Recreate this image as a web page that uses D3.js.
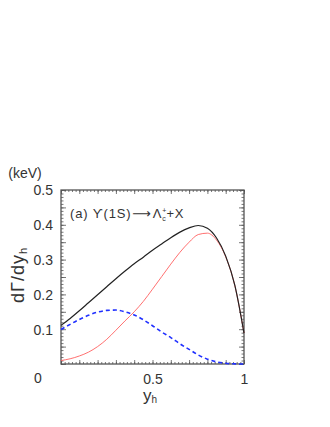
<!DOCTYPE html>
<html>
<head>
<meta charset="utf-8" />
<script src="https://d3js.org/d3.v7.min.js"></script>
<style>
  body { margin: 0; background: white; }
  text { font-family: "Liberation Sans", Arial, sans-serif; fill: #333; }
</style>
</head>
<body>
<svg id="chart"></svg>
<script>
// y_h sample points
var yh = [0, 0.05, 0.1, 0.15, 0.2, 0.25, 0.3, 0.35, 0.4, 0.45, 0.5,
          0.55, 0.6, 0.65, 0.7, 0.75, 0.8, 0.85, 0.9, 0.95, 1.0];
// total (black)
var total = [0.111, 0.131, 0.153, 0.176, 0.199, 0.222, 0.245, 0.267, 0.288, 0.307, 0.327,
             0.345, 0.363, 0.379, 0.391, 0.398, 0.390, 0.362, 0.310, 0.226, 0.089];
// red component
var red = [0.010, 0.015, 0.023, 0.034, 0.050, 0.071, 0.097, 0.124, 0.150, 0.180, 0.215,
           0.251, 0.287, 0.321, 0.350, 0.372, 0.376, 0.356, 0.308, 0.225, 0.089];
// blue dashed component
var blue = [0.099, 0.114, 0.128, 0.140, 0.149, 0.154, 0.155, 0.150, 0.141, 0.127, 0.110,
            0.092, 0.076, 0.058, 0.042, 0.026, 0.014, 0.006, 0.002, 0.0005, 0];
var yTicks = [0.1, 0.2, 0.3, 0.4, 0.5];
var xTicks = [0.5, 1];

var width = 330, height = 427;
var margin = {top: 190, right: 86, bottom: 63, left: 61};

var svg = d3.select("#chart").attr("width", width).attr("height", height);

var x = d3.scaleLinear().domain([0, 1]).range([margin.left, width - margin.right]);
var y = d3.scaleLinear().domain([0, 0.5]).range([height - margin.bottom, margin.top]);

var axisColor = "#555";

var xMinor = d3.range(0, 1.0001, 0.02);
var xMajor = d3.range(0, 1.0001, 0.1);
var yMinor = d3.range(0, 0.5001, 0.01);
var yMajor = d3.range(0, 0.5001, 0.05);

// ticks, all pointing inward (PAW style)
function drawTicks(axisFn, scale, vals, len, tr) {
  var g = svg.append("g").attr("transform", tr)
    .call(axisFn(scale).tickValues(vals).tickSize(len).tickFormat(""));
  g.select("path").remove();
  g.selectAll("line").attr("stroke", axisColor).attr("stroke-width", 0.8);
}

var bottomY = y(0), topY = y(0.5), leftX = x(0), rightX = x(1);

drawTicks(d3.axisTop, x, xMinor, 2, "translate(0," + bottomY + ")");
drawTicks(d3.axisTop, x, xMajor, 4, "translate(0," + bottomY + ")");
drawTicks(d3.axisBottom, x, xMinor, 2, "translate(0," + topY + ")");
drawTicks(d3.axisBottom, x, xMajor, 4, "translate(0," + topY + ")");
drawTicks(d3.axisRight, y, yMinor, 2.5, "translate(" + leftX + ",0)");
drawTicks(d3.axisRight, y, yMajor, 5, "translate(" + leftX + ",0)");
drawTicks(d3.axisLeft, y, yMinor, 2.5, "translate(" + rightX + ",0)");
drawTicks(d3.axisLeft, y, yMajor, 5, "translate(" + rightX + ",0)");

// frame
svg.append("rect")
  .attr("x", leftX).attr("y", topY)
  .attr("width", rightX - leftX).attr("height", bottomY - topY)
  .attr("fill", "none").attr("stroke", axisColor).attr("stroke-width", 1.3);

// tick labels
var yl = svg.append("g").attr("transform", "translate(" + (leftX - 5) + ",0)")
  .call(d3.axisLeft(y).tickValues(yTicks).tickSize(0).tickFormat(d3.format(".1f")));
yl.select("path").remove();
yl.selectAll("text").style("font-size", "14px").attr("fill", "#333").attr("dy", "0.35em");

var xl = svg.append("g").attr("transform", "translate(0," + (bottomY + 7) + ")")
  .call(d3.axisBottom(x).tickValues(xTicks).tickSize(0).tickFormat(function(d) { return d === 1 ? "1" : d3.format(".1f")(d); }));
xl.select("path").remove();
xl.selectAll("text").style("font-size", "14px").attr("fill", "#333");

// origin label
svg.append("text").attr("x", 38).attr("y", bottomY + 19)
  .attr("text-anchor", "middle").style("font-size", "14px").text("0");

// curves
var pts = function(arr) { return yh.map(function(d, i) { return [d, arr[i]]; }); };
var line = d3.line().x(function(d) { return x(d[0]); }).y(function(d) { return y(d[1]); })
  .curve(d3.curveMonotoneX);

svg.append("path").datum(pts(red)).attr("d", line)
  .attr("fill", "none").attr("stroke", "#ff6060").attr("stroke-width", 0.9);
svg.append("path").datum(pts(blue)).attr("d", line)
  .attr("fill", "none").attr("stroke", "#2030ff").attr("stroke-width", 1.6)
  .attr("stroke-dasharray", "4,3");
svg.append("path").datum(pts(total)).attr("d", line)
  .attr("fill", "none").attr("stroke", "#222").attr("stroke-width", 1.2);

// annotation
var ann = svg.append("text").attr("x", 70).attr("y", 218)
  .style("font-size", "13px").style("letter-spacing", "0.8px");
ann.append("tspan").text("(a) \u03d2(1S)");
ann.append("tspan").attr("dx", 1).style("font-family", "DejaVu Sans").text("\u27f6");
ann.append("tspan").attr("dx", 1).text("\u039b");
ann.append("tspan").attr("dy", -5).style("font-size", "7px").text("+");
ann.append("tspan").attr("dx", -5).attr("dy", 8).style("font-size", "7px").text("c");
ann.append("tspan").attr("dy", -3).text("+X");

// axis titles
svg.append("text").attr("x", 25).attr("y", 178).attr("text-anchor", "middle")
  .style("font-size", "14px").text("(keV)");

var yt = svg.append("text").attr("transform", "translate(24,275) rotate(-90)")
  .attr("text-anchor", "middle").style("font-size", "18px").style("letter-spacing", "1px");
yt.append("tspan").text("d\u0393/dy");
yt.append("tspan").attr("dy", 3).style("font-size", "11px").text("h");

var xt = svg.append("text").attr("x", 150).attr("y", 401).attr("text-anchor", "middle")
  .style("font-size", "17px");
xt.append("tspan").text("y");
xt.append("tspan").attr("dy", 2).style("font-size", "10px").text("h");
</script>
</body>
</html>
